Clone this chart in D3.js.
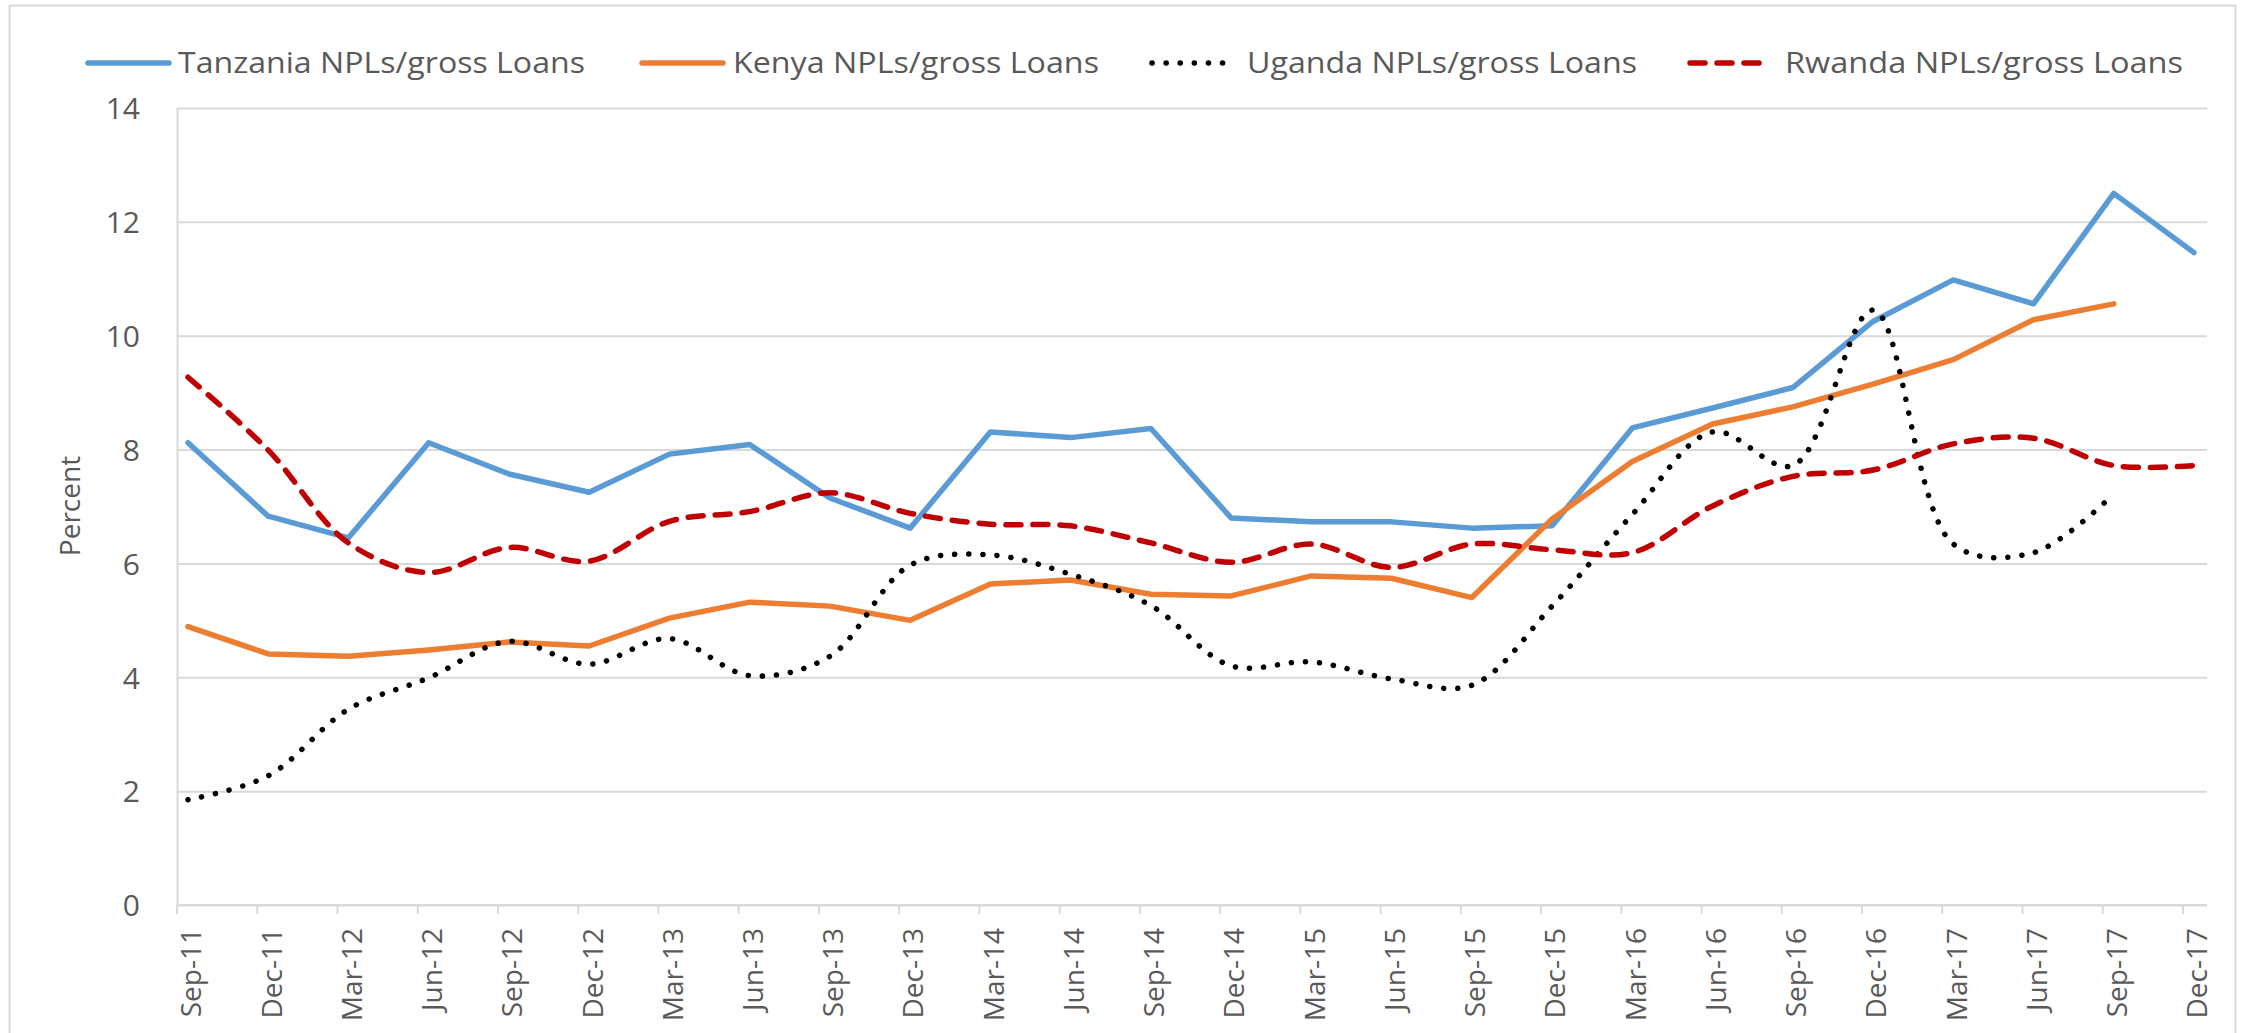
<!DOCTYPE html>
<html>
<head>
<meta charset="utf-8">
<script src="https://cdn.jsdelivr.net/npm/d3@7"></script>
<style>
  body { margin: 0; background: #fff; }
  svg text { font-family: "Open Sans", "Liberation Sans", sans-serif; fill: #595959; }
</style>
</head>
<body>
<script>
// quarters
var categories = ["Sep-11","Dec-11","Mar-12","Jun-12","Sep-12","Dec-12","Mar-13","Jun-13","Sep-13","Dec-13",
  "Mar-14","Jun-14","Sep-14","Dec-14","Mar-15","Jun-15","Sep-15","Dec-15","Mar-16","Jun-16","Sep-16","Dec-16",
  "Mar-17","Jun-17","Sep-17","Dec-17"];

var tanzania = [8.12,6.83,6.45,8.12,7.57,7.25,7.92,8.09,7.15,6.62,8.31,8.21,8.37,6.80,6.73,6.73,6.62,6.66,8.38,8.73,9.09,10.25,10.98,10.56,12.50,11.46];
var kenya    = [4.89,4.41,4.37,4.48,4.62,4.55,5.04,5.32,5.25,5.00,5.64,5.71,5.46,5.43,5.78,5.74,5.40,6.78,7.79,8.45,8.75,9.15,9.58,10.28,10.56,null];
var uganda   = [1.85,2.27,3.44,3.99,4.63,4.23,4.68,4.03,4.37,5.97,6.15,5.81,5.26,4.20,4.27,3.97,3.86,5.25,6.86,8.31,7.72,10.45,6.34,6.19,7.22,null];
var rwanda   = [9.27,7.99,6.36,5.84,6.28,6.04,6.74,6.91,7.24,6.88,6.69,6.66,6.36,6.02,6.34,5.93,6.34,6.24,6.19,7.01,7.53,7.64,8.10,8.20,7.72,7.72];

var yTicks = [0,2,4,6,8,10,12,14];

var seriesNames = ["Tanzania NPLs/gross Loans","Kenya NPLs/gross Loans","Uganda NPLs/gross Loans","Rwanda NPLs/gross Loans"];

var width = 2252, height = 1033;
var plotLeft = 177, plotRight = 2207, plotTop = 108, plotBottom = 905;

var series = [
  {name: seriesNames[0], values: tanzania, color: "#5B9BD5", dash: null, curve: d3.curveLinear},
  {name: seriesNames[1], values: kenya,    color: "#ED7D31", dash: null, curve: d3.curveLinear},
  {name: seriesNames[2], values: uganda,   color: "#000000", dash: "0.1,14", curve: d3.curveCatmullRom.alpha(0.5)},
  {name: seriesNames[3], values: rwanda,   color: "#C00000", dash: "15,12", curve: d3.curveCatmullRom.alpha(0.5)}
];

var svg = d3.select("body").append("svg")
  .attr("width", width)
  .attr("height", height);

// chart border
svg.append("rect")
  .attr("x", 9.5).attr("y", 5.5)
  .attr("width", 2226).attr("height", 1060)
  .attr("fill", "#fff")
  .attr("stroke", "#d9d9d9")
  .attr("stroke-width", 2);

var x = d3.scalePoint().domain(categories).range([188, 2194]);
var xTick = d3.scalePoint().domain(categories).range([176.5, 2182.5]);
var y = d3.scaleLinear().domain([0, 14]).range([plotBottom, plotTop]);

// gridlines
var grid = svg.append("g")
  .attr("transform", "translate(" + plotLeft + ",0)")
  .call(d3.axisLeft(y).tickValues(yTicks).tickSize(-(plotRight - plotLeft)).tickFormat(""));
grid.select(".domain").remove();
grid.selectAll(".tick line").attr("stroke", "#d9d9d9").attr("stroke-width", 2);

// y axis labels
var yAxis = svg.append("g")
  .attr("transform", "translate(" + plotLeft + ",0)")
  .call(d3.axisLeft(y).tickValues(yTicks).tickSize(0).tickPadding(37));
yAxis.select(".domain").attr("stroke", "#d9d9d9").attr("stroke-width", 2);
yAxis.selectAll("text")
  .attr("font-size", 30)
  .attr("font-family", null)
  .attr("dy", "0.36em");

// x tick marks
var xMarks = svg.append("g")
  .attr("transform", "translate(0," + plotBottom + ")")
  .call(d3.axisBottom(xTick).tickSize(9).tickFormat(""));
xMarks.select(".domain").remove();
xMarks.selectAll(".tick line").attr("stroke", "#d9d9d9").attr("stroke-width", 2);

svg.append("line")
  .attr("x1", plotLeft).attr("x2", plotRight)
  .attr("y1", plotBottom).attr("y2", plotBottom)
  .attr("stroke", "#d9d9d9").attr("stroke-width", 2);

// x labels
var xAxis = svg.append("g")
  .attr("transform", "translate(0," + plotBottom + ")")
  .call(d3.axisBottom(x).tickSize(0));
xAxis.select(".domain").remove();
xAxis.selectAll("text")
  .attr("font-size", 28)
  .attr("font-family", null)
  .attr("transform", "rotate(-90)")
  .attr("x", -23)
  .attr("y", 3)
  .attr("dy", "0.35em")
  .style("text-anchor", "end");

// y title
svg.append("text")
  .attr("transform", "translate(70,506) rotate(-90)")
  .attr("text-anchor", "middle")
  .attr("dy", "0.35em")
  .attr("font-size", 28)
  .text("Percent");

// lines
series.forEach(function(s){
  var line = d3.line()
    .defined(function(d){ return d != null; })
    .x(function(d, i){ return x(categories[i]); })
    .y(function(d){ return y(d); })
    .curve(s.curve);
  svg.append("path")
    .datum(s.values)
    .attr("d", line)
    .attr("fill", "none")
    .attr("stroke", s.color)
    .attr("stroke-width", 5.5)
    .attr("stroke-linecap", "round")
    .attr("stroke-linejoin", "round")
    .attr("stroke-dasharray", s.dash);
});

// legend
var legendPos = [
  {x1: 88, x2: 169, tx: 178, tw: 407},
  {x1: 642, x2: 723, tx: 733, tw: 366},
  {x1: 1152, x2: 1232, tx: 1247, tw: 390},
  {x1: 1690, x2: 1766, tx: 1785, tw: 398}
];
var legend = svg.append("g");
series.forEach(function(s, i){
  var p = legendPos[i];
  legend.append("line")
    .attr("x1", p.x1).attr("x2", p.x2)
    .attr("y1", 63).attr("y2", 63)
    .attr("stroke", s.color)
    .attr("stroke-width", 5.5)
    .attr("stroke-linecap", "round")
    .attr("stroke-dasharray", s.dash);
  legend.append("text")
    .attr("x", p.tx).attr("y", 73)
    .attr("font-size", 29)
    .attr("textLength", p.tw)
    .attr("lengthAdjust", "spacingAndGlyphs")
    .text(s.name);
});
</script>
</body>
</html>
